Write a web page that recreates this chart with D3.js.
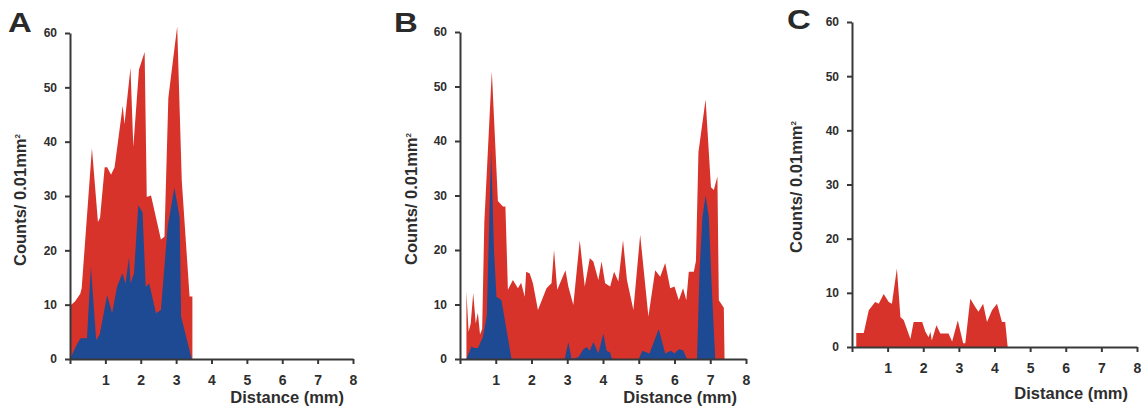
<!DOCTYPE html>
<html>
<head>
<meta charset="utf-8">
<script src="https://cdn.jsdelivr.net/npm/d3@7"></script>
<style>
  body { margin: 0; background: #fff; }
  svg { display: block; font-family: "Liberation Sans", Arial, sans-serif; font-weight: bold; }
  .axis path, .axis line { stroke: #383838; stroke-width: 2; }
  .axis text { fill: #2e2e2e; font-weight: bold; }
</style>
</head>
<body>
<svg width="1141" height="409"></svg>
<script>
// distance (mm), counts / 0.01 mm2
var aRed = [[0,0],[0,9.8],[0.14,10.6],[0.29,12],[0.33,13],[0.62,38.8],[0.79,25.2],[0.85,26],[0.98,35.3],[1.05,35.3],[1.16,33.9],[1.26,35.3],[1.49,46.6],[1.54,43.2],[1.71,53.6],[1.79,39],[1.95,53.3],[2.11,56.5],[2.17,29.8],[2.29,30.1],[2.57,22],[2.67,22.5],[2.78,48.1],[3.03,61.2],[3.16,32.8],[3.38,11.5],[3.46,11.5],[3.46,0]];
var aBlue = [[0,0],[0.19,2.6],[0.3,3.8],[0.48,3.8],[0.59,17],[0.74,3.5],[0.84,4.5],[1.05,11.8],[1.19,8.4],[1.33,13.3],[1.48,15.8],[1.57,13.9],[1.67,18.8],[1.71,13.9],[1.81,15.8],[1.93,28.3],[2.05,27],[2.14,13.3],[2.24,13.9],[2.43,8.4],[2.57,9],[2.76,24.3],[2.95,31.5],[3.1,26.1],[3.14,7.8],[3.44,0]];

var bRed = [[0.18,0],[0.18,12.4],[0.24,5],[0.3,6.5],[0.37,12.1],[0.44,6.5],[0.5,8.5],[0.56,4.5],[0.62,5.5],[0.68,25],[0.89,52.8],[1.06,29],[1.2,28],[1.27,28],[1.34,12.7],[1.48,14.5],[1.62,13],[1.71,14],[1.81,11.4],[1.85,16],[1.95,15.7],[2.04,13.9],[2.18,9],[2.42,13],[2.56,13.9],[2.63,20],[2.72,12.7],[2.95,16.3],[3.03,13.3],[3.17,9.9],[3.35,21.8],[3.49,13.3],[3.63,18.5],[3.73,17.9],[3.87,14.5],[3.96,17.9],[4.06,13.9],[4.2,13.3],[4.31,16],[4.43,14.2],[4.56,21.8],[4.67,14.5],[4.85,9],[5.04,22.8],[5.27,7.8],[5.46,16.3],[5.6,15.1],[5.74,17.6],[5.88,13],[6.0,13.3],[6.12,10.8],[6.24,13],[6.33,10.8],[6.4,16],[6.54,16],[6.6,18],[6.67,38],[6.87,47.6],[7.02,31.5],[7.1,31],[7.2,33.5],[7.24,10.8],[7.38,9.4],[7.4,0]];
var bBlue = [[0.18,0],[0.32,2.3],[0.4,2],[0.5,2],[0.64,4],[0.75,8],[0.87,38.4],[0.95,20],[1.02,11.4],[1.16,10.8],[1.44,0],[2.93,0],[3.03,3.1],[3.12,0],[3.31,0.3],[3.45,1.8],[3.54,2.2],[3.63,1.5],[3.73,3.1],[3.87,1],[4.01,4.7],[4.1,1.5],[4.2,1.2],[4.25,0],[5.0,0],[5.1,1.5],[5.3,1],[5.56,5.5],[5.74,1],[5.9,1.5],[6.0,1],[6.12,1.8],[6.24,1.6],[6.35,0],[6.63,0],[6.7,16],[6.78,26],[6.87,30],[6.96,26],[7.05,12],[7.14,0]];

var cRed = [[0.12,0],[0.12,2.6],[0.33,2.6],[0.47,6.8],[0.65,8.3],[0.75,8],[0.89,9.8],[1.03,8.3],[1.12,8],[1.26,14.5],[1.36,5.5],[1.45,5],[1.64,1.5],[1.73,4.6],[1.97,4.6],[2.06,2.8],[2.15,1.8],[2.2,2.8],[2.24,1.2],[2.37,4],[2.48,2.5],[2.71,2.5],[2.81,1],[2.97,4.9],[3.12,0.7],[3.18,0.7],[3.32,8.9],[3.46,7.4],[3.55,6.5],[3.68,8],[3.79,4.6],[3.93,6.8],[4.07,8],[4.21,4.6],[4.3,4.6],[4.37,0]];

var xTicks = [0, 1, 2, 3, 4, 5, 6, 7, 8];
var yTicks = [0, 10, 20, 30, 40, 50, 60];
var letters = ["A", "B", "C"];
var yLabel = "Counts/ 0.01mm";
var xLabel = "Distance (mm)";

var red = "#d8332a", blue = "#1d4a92";

var svg = d3.select("svg");

// panel boxes in px: left, right, bottom, top
var panels = [
  { letter: letters[0], x0: 70, x1: 353, y0: 359, y1: 33, series: [aRed, aBlue], lx: 8, ly: 32, yl: [26, 200], xt: 44 },
  { letter: letters[1], x0: 460, x1: 746, y0: 359, y1: 32, series: [bRed, bBlue], lx: 394, ly: 32, yl: [417, 199], xt: 44 },
  { letter: letters[2], x0: 852, x1: 1137, y0: 347, y1: 22, series: [cRed], lx: 787, ly: 29, yl: [802, 187], xt: 52 }
];

var colors = [red, blue];

panels.forEach(function (p) {
  var x = d3.scaleLinear().domain([0, 8]).range([p.x0, p.x1]);
  var y = d3.scaleLinear().domain([0, 60]).range([p.y0, p.y1]);

  var area = d3
    .area()
    .x(function (d) { return x(d[0]); })
    .y0(y(0))
    .y1(function (d) { return y(d[1]); });

  var g = svg.append("g");

  g.selectAll("path.area")
    .data(p.series)
    .enter()
    .append("path")
    .attr("class", "area")
    .attr("d", area)
    .attr("fill", function (d, i) { return colors[i]; });

  g.append("g")
    .attr("class", "axis")
    .attr("transform", "translate(0," + p.y0 + ")")
    .call(
      d3.axisBottom(x)
        .tickValues(xTicks)
        .tickSize(5)
        .tickPadding(11)
        .tickSizeOuter(0)
        .tickFormat(function (d) { return d === 0 ? "" : d; })
    )
    .selectAll("text")
    .style("font-size", "14px");

  g.append("g")
    .attr("class", "axis")
    .attr("transform", "translate(" + p.x0 + ",0)")
    .call(d3.axisLeft(y).tickValues(yTicks).tickSize(5).tickPadding(8).tickSizeOuter(0))
    .selectAll("text")
    .style("font-size", "12px");

  // panel letter, the original face is wider than Arial
  g.append("text")
    .attr("transform", "translate(" + p.lx + "," + p.ly + ") scale(1.22,1)")
    .attr("fill", "#2a2a2a")
    .style("font-size", "27px")
    .text(p.letter);

  // axis titles
  var yt = g.append("text")
    .attr("transform", "translate(" + p.yl[0] + "," + p.yl[1] + ") rotate(-90)")
    .attr("text-anchor", "middle")
    .attr("fill", "#2e2e2e")
    .style("font-size", "16.5px")
    .text(yLabel);
  yt.append("tspan").attr("dy", "-0.7em").style("font-size", "8px").text("2");

  g.append("text")
    .attr("x", p.x1 - 9)
    .attr("y", p.y0 + p.xt)
    .attr("text-anchor", "end")
    .attr("fill", "#2e2e2e")
    .style("font-size", "16.5px")
    .text(xLabel);
});
</script>
</body>
</html>
